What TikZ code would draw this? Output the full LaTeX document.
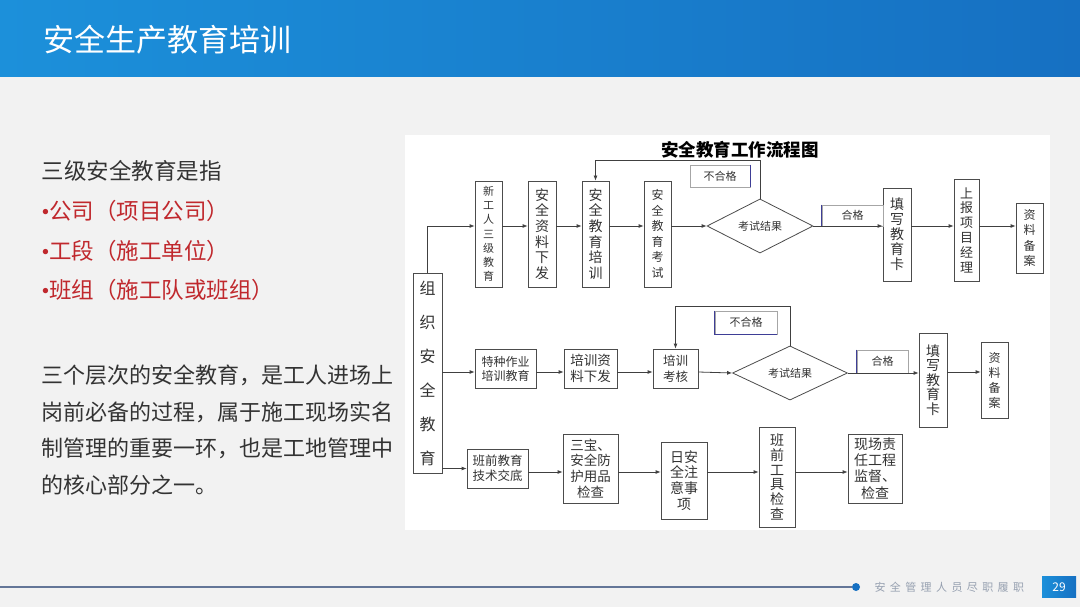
\documentclass[tikz,border=0pt]{standalone}
\usepackage{fontspec}
\setmainfont{Noto Sans CJK SC}
\newfontfamily\footfont[LetterSpace=40]{Noto Sans CJK SC}
\newfontfamily\bulletfont{Liberation Serif}
\usetikzlibrary{arrows.meta, shapes.geometric}
\definecolor{slidebg}{RGB}{242,242,242}
\definecolor{headblue}{RGB}{28,144,218}
\definecolor{headdark}{RGB}{22,112,194}
\definecolor{pointred}{RGB}{192,40,45}
\definecolor{edgeblue}{RGB}{62,62,150}
\definecolor{footline}{RGB}{100,118,152}
\definecolor{footgray}{RGB}{150,160,176}
\newcommand{\pt}{{\bulletfont •}}

\begin{document}
\begin{tikzpicture}[x=1pt, y=-1pt,
      box/.style={draw=black!70, fill=white, line width=0.8pt, align=center,
                  inner sep=0pt, text=black!80},
      decision/.style={draw=black!70, diamond, fill=white, line width=0.8pt,
                       inner sep=0pt, text=black!80, font=\fontsize{11}{13}\selectfont},
      tag/.style={draw=black!35, line width=0.6pt, inner sep=0pt, text=black!80,
                  font=\fontsize{11}{13}\selectfont},
      tagedge/.style={edgeblue, line width=1.2pt},
      arr/.style={-{Latex[length=5pt,width=4pt]}, line width=0.8pt, black!75}]
    \useasboundingbox (0,0) rectangle (1080,607);
    \fill[slidebg] (0,0) rectangle (1080,607);
    % header
    \shade[left color=headblue, right color=headdark] (0,0) rectangle (1080,77);
    \node[anchor=west, text=white, font=\fontsize{31}{36}\selectfont] (title) at (40,40) {安全生产教育培训};
    % left text
    \node[anchor=west, text=black!80, font=\fontsize{22.5}{26}\selectfont] (lead) at (38,171) {三级安全教育是指};
    \node[anchor=west, text=pointred, font=\fontsize{22.5}{26}\selectfont] (level1) at (38,211) {\pt 公司（项目公司）};
    \node[anchor=west, text=pointred, font=\fontsize{22.5}{26}\selectfont] (level2) at (38,251) {\pt 工段（施工单位）};
    \node[anchor=west, text=pointred, font=\fontsize{22.5}{26}\selectfont] (level3) at (38,290) {\pt 班组（施工队或班组）};
    \node[anchor=west, align=left, text=black!80, font=\fontsize{22}{36.7}\selectfont] (para) at (38,430)
      {三个层次的安全教育，是工人进场上\\岗前必备的过程，属于施工现场实名\\制管理的重要一环，也是工地管理中\\的核心部分之一。};
    % chart panel
    \fill[white] (405,135) rectangle (1050,530);
    \node[font=\bfseries\fontsize{17.5}{20}\selectfont] (charttitle) at (740,150) {安全教育工作流程图};
    \coordinate (row1) at (0,226);
    \coordinate (row2) at (0,372);
    \coordinate (row3) at (0,472);
    \node[box, minimum width=29, minimum height=200, font=\fontsize{16}{34}\selectfont] (org) at (427.5,373) {组\\织\\安\\全\\教\\育};
    % row 1
    \node[box, minimum width=27, minimum height=106, font=\fontsize{11}{14.2}\selectfont] (newer) at (488.5,234) {新\\工\\人\\三\\级\\教\\育};
    \node[box, minimum width=28, minimum height=106, font=\fontsize{14}{15.6}\selectfont] (handout) at (542,234) {安\\全\\资\\料\\下\\发};
    \node[box, minimum width=27, minimum height=106, font=\fontsize{14}{15.6}\selectfont] (train) at (595.5,234) {安\\全\\教\\育\\培\\训};
    \node[box, minimum width=27, minimum height=106, font=\fontsize{12}{15.6}\selectfont] (exam) at (657.5,234) {安\\全\\教\\育\\考\\试};
    \node[decision, minimum width=106, minimum height=46] (result) at (760,226) {考试结果};
    \node[box, minimum width=28, minimum height=93, font=\fontsize{14}{15}\selectfont] (card) at (897,234.5) {填\\写\\教\\育\\卡};
    \node[box, minimum width=25, minimum height=102, font=\fontsize{13}{14.8}\selectfont] (report) at (966.5,230) {上\\报\\项\\目\\经\\理};
    \node[box, minimum width=27, minimum height=70, font=\fontsize{12}{15.3}\selectfont] (archive) at (1029.5,238) {资\\料\\备\\案};
    \node[tag, minimum width=60, minimum height=22] (fail) at (720,176) {不合格};
    \draw[tagedge] (fail.north east) -- (fail.south east);
    \node[tag, minimum width=61, minimum height=21] (pass) at (852.5,215.5) {合格};
    \draw[tagedge] (pass.north west) -- (pass.south west);
    % row 2
    \node[box, minimum width=61, minimum height=39, font=\fontsize{12}{14}\selectfont] (special) at (505.5,368.5) {特种作业\\培训教育};
    \node[box, minimum width=53, minimum height=39, font=\fontsize{13.5}{16}\selectfont] (material) at (590.5,368.5) {培训资\\料下发};
    \node[box, minimum width=45, minimum height=39, font=\fontsize{12.5}{16}\selectfont] (assess) at (675.5,368.5) {培训\\考核};
    \node[decision, minimum width=115, minimum height=46] (result2) at (790,373) {考试结果};
    \node[box, minimum width=28, minimum height=94, font=\fontsize{14}{14.5}\selectfont] (card2) at (933,380) {填\\写\\教\\育\\卡};
    \node[box, minimum width=27, minimum height=76, font=\fontsize{12}{15}\selectfont] (archive2) at (994.5,380) {资\\料\\备\\案};
    \node[tag, minimum width=62, minimum height=23] (fail2) at (746,322.5) {不合格};
    \draw[tagedge] (fail2.north west) -- (fail2.south west) -- (fail2.south east);
    \node[tag, minimum width=51, minimum height=23] (pass2) at (882.5,361.5) {合格};
    \draw[tagedge] (pass2.north west) -- (pass2.south west);
    % row 3
    \node[box, minimum width=61, minimum height=39, font=\fontsize{12.5}{15}\selectfont] (brief) at (497.5,468.5) {班前教育\\技术交底};
    \node[box, minimum width=55, minimum height=69, font=\fontsize{13.5}{15.6}\selectfont] (gear) at (590.5,468.5) {三宝、\\安全防\\护用品\\检查};
    \node[box, minimum width=46, minimum height=77, font=\fontsize{14}{15.7}\selectfont] (daily) at (684,480.5) {日安\\全注\\意事\\项};
    \node[box, minimum width=36, minimum height=100, font=\fontsize{14}{14.8}\selectfont] (tools) at (777,477) {班\\前\\工\\具\\检\\查};
    \node[box, minimum width=54, minimum height=69, font=\fontsize{14}{16.3}\selectfont] (supervise) at (875,468.5) {现场责\\任工程\\监督、\\检查};
    % arrows
    \draw[arr] (org.north) |- (newer.west |- row1);
    \draw[arr] (newer.east |- row1) -- (handout.west |- row1);
    \draw[arr] (handout.east |- row1) -- (train.west |- row1);
    \draw[arr] (train.east |- row1) -- (exam.west |- row1);
    \draw[arr] (exam.east |- row1) -- (result.west);
    \draw[arr] (result.north) -- ++(0,-38) -| (train.north);
    \draw[arr] (result.east) -- (card.west |- result.east);
    \draw[arr] (card.east |- row1) -- (report.west |- row1);
    \draw[arr] (report.east |- row1) -- (archive.west |- row1);
    \draw[arr] (org.east |- row2) -- (special.west |- row2);
    \draw[arr] (special.east |- row2) -- (material.west |- row2);
    \draw[arr] (material.east |- row2) -- (assess.west |- row2);
    \draw[arr] (assess.east |- row2) -- (result2.west);
    \draw[arr] (result2.north) -- ++(0,-39) -| (assess.north);
    \draw[arr] (result2.east) -- (card2.west |- result2.east);
    \draw[arr] (card2.east |- row2) -- (archive2.west |- row2);
    \draw[arr] (org.east |- brief) -- (brief.west);
    \draw[arr] (brief.east |- row3) -- (gear.west |- row3);
    \draw[arr] (gear.east |- row3) -- (daily.west |- row3);
    \draw[arr] (daily.east |- row3) -- (tools.west |- row3);
    \draw[arr] (tools.east |- row3) -- (supervise.west |- row3);
    % footer
    \node[circle, fill=headdark, minimum size=8, inner sep=0pt] (dot) at (856,587) {};
    \draw[footline, line width=1.5pt] (0,587) -- (dot);
    \node[anchor=west, text=footgray, font=\footfont\fontsize{11}{13}\selectfont] (footer) at (871,587) {安全管理人员尽职履职};
    \node[left color=headblue, right color=headdark, text=white, minimum width=34, minimum height=21,
          inner sep=0pt, font=\fontsize{12}{14}\selectfont] (pageno) at (1059,587) {29};
  \end{tikzpicture}
\end{document}
